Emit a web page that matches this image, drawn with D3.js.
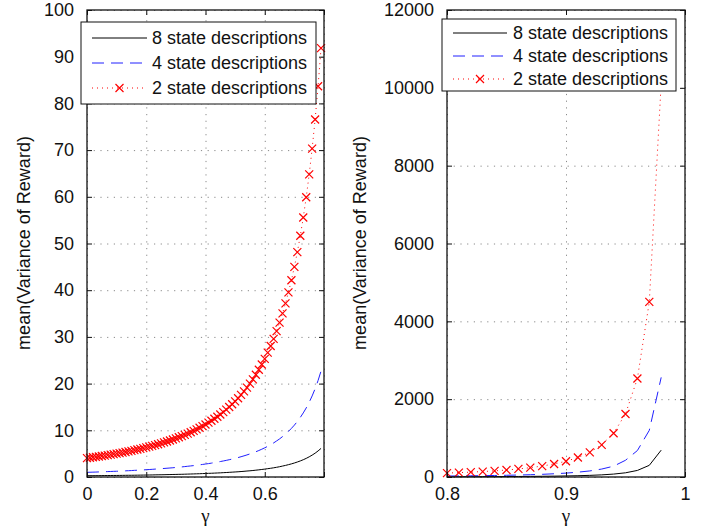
<!DOCTYPE html>
<html><head><meta charset="utf-8">
<script src="https://cdn.jsdelivr.net/npm/d3@7"></script>
<style>body{margin:0;background:#fff} svg{display:block} text{font-family:"Liberation Sans",Arial,Helvetica,sans-serif}</style>
</head><body><svg id="c" width="705" height="531"></svg>
<script>
// ---------- data ----------
const seriesNames = ["8 state descriptions", "4 state descriptions", "2 state descriptions"];

const gammaLeft = [0,0.01,0.02,0.03,0.04,0.05,0.06,0.07,0.08,0.09,
  0.10,0.11,0.12,0.13,0.14,0.15,0.16,0.17,0.18,0.19,
  0.20,0.21,0.22,0.23,0.24,0.25,0.26,0.27,0.28,0.29,
  0.30,0.31,0.32,0.33,0.34,0.35,0.36,0.37,0.38,0.39,
  0.40,0.41,0.42,0.43,0.44,0.45,0.46,0.47,0.48,0.49,
  0.50,0.51,0.52,0.53,0.54,0.55,0.56,0.57,0.58,0.59,
  0.60,0.61,0.62,0.63,0.64,0.65,0.66,0.67,0.68,0.69,
  0.70,0.71,0.72,0.73,0.74,0.75,0.76,0.77,0.78,0.79];
const var8Left = [0.27,0.28,0.28,0.29,0.29,0.30,0.31,0.31,0.32,0.33,
  0.33,0.34,0.35,0.36,0.37,0.37,0.38,0.39,0.40,0.41,
  0.42,0.43,0.44,0.46,0.47,0.48,0.49,0.51,0.52,0.54,
  0.55,0.57,0.58,0.60,0.62,0.64,0.66,0.68,0.70,0.73,
  0.75,0.78,0.80,0.83,0.86,0.89,0.93,0.96,1.00,1.04,
  1.08,1.12,1.17,1.22,1.28,1.33,1.39,1.46,1.53,1.61,
  1.69,1.78,1.87,1.97,2.08,2.20,2.34,2.48,2.64,2.81,
  3.00,3.21,3.44,3.70,3.99,4.32,4.69,5.10,5.58,6.12];
const var4Left = [1.00,1.02,1.04,1.06,1.09,1.11,1.13,1.16,1.18,1.21,
  1.23,1.26,1.29,1.32,1.35,1.38,1.42,1.45,1.49,1.52,
  1.56,1.60,1.64,1.69,1.73,1.78,1.83,1.88,1.93,1.98,
  2.04,2.10,2.16,2.23,2.30,2.37,2.44,2.52,2.60,2.69,
  2.78,2.87,2.97,3.08,3.19,3.31,3.43,3.56,3.70,3.84,
  4.00,4.16,4.34,4.53,4.73,4.94,5.17,5.41,5.67,5.95,
  6.25,6.57,6.93,7.30,7.72,8.16,8.65,9.18,9.77,10.41,
  11.11,11.89,12.76,13.72,14.79,16.00,17.36,18.90,20.66,22.68];
const var2Left = [4.05,4.13,4.22,4.30,4.39,4.49,4.58,4.68,4.78,4.89,
  5.00,5.11,5.23,5.35,5.48,5.61,5.74,5.88,6.02,6.17,
  6.33,6.49,6.66,6.83,7.01,7.20,7.40,7.60,7.81,8.03,
  8.27,8.51,8.76,9.02,9.30,9.59,9.89,10.20,10.54,10.88,
  11.25,11.63,12.04,12.47,12.91,13.39,13.89,14.42,14.98,15.57,
  16.20,16.87,17.58,18.33,19.14,20.00,20.92,21.90,22.96,24.09,
  25.31,26.63,28.05,29.58,31.25,33.06,35.03,37.19,39.55,42.14,
  45.00,48.16,51.66,55.56,59.91,64.80,70.31,76.56,83.68,91.84];

const gammaRight = [0.80,0.81,0.82,0.83,0.84,0.85,0.86,0.87,0.88,0.89,
  0.90,0.91,0.92,0.93,0.94,0.95,0.96,0.97,0.98];
const var8Right = [7,7.5,8.3,9.3,10.5,12,13.8,16,18.7,22.3,27,33,42,55,75,108,169,300,690];
const var4Right = [25,28,31,35,39,44,51,59,69,83,100,124,156,204,278,430,680,1200,2560];
const var2Right = [101,112,125,140,158,180,207,240,281,335,405,500,633,827,1125,1620,2531,4500,10125];

const xTicksLeft = [0,0.2,0.4,0.6,0.8];
const xTickLabelsLeft = ["0","0.2","0.4","0.6",""];
const yTicksLeft = [0,10,20,30,40,50,60,70,80,90,100];
const yTickLabelsLeft = ["0","10","20","30","40","50","60","70","80","90","100"];
const xTicksRight = [0.8,0.9,1.0];
const xTickLabelsRight = ["0.8","0.9","1"];
const yTicksRight = [0,2000,4000,6000,8000,10000,12000];
const yTickLabelsRight = ["0","2000","4000","6000","8000","10000","12000"];

const xLabel = "γ";
const yLabel = "mean(Variance of Reward)";

// ---------- drawing ----------
const svg = d3.select("#c");
const FONT = 18;

function panel(o) {
  const x = d3.scaleLinear().domain(o.xDomain).range(o.xRange);
  const y = d3.scaleLinear().domain(o.yDomain).range([477, 10]);
  const g = svg.append("g");
  const W = o.xRange[1] - o.xRange[0], H = 467;

  // grid
  const gx = g.append("g").attr("transform", `translate(0,477)`)
    .call(d3.axisBottom(x).tickValues(o.xTicks).tickSize(-H).tickFormat(""));
  const gy = g.append("g").attr("transform", `translate(${o.xRange[0]},0)`)
    .call(d3.axisLeft(y).tickValues(o.yTicks).tickSize(-W).tickFormat(""));
  [gx, gy].forEach(a => {
    a.select(".domain").remove();
    a.selectAll("line").attr("stroke", "#8a8a8a").attr("stroke-width", 1).attr("stroke-dasharray", "1.2,5.5");
  });

  // series
  const pts = (xs, ys) => xs.map((v, i) => [v, ys[i]]);
  const line = d3.line().x(d => x(d[0])).y(d => y(d[1]));
  g.append("path").datum(pts(o.gx, o.s8)).attr("d", line)
    .attr("fill", "none").attr("stroke", "#000").attr("stroke-width", 1);
  g.append("path").datum(pts(o.gx, o.s4)).attr("d", line)
    .attr("fill", "none").attr("stroke", "#2020ff").attr("stroke-width", 1).attr("stroke-dasharray", "12,7");
  g.append("path").datum(pts(o.gx, o.s2)).attr("d", line)
    .attr("fill", "none").attr("stroke", "#ff0000").attr("stroke-width", 1).attr("stroke-dasharray", "1,4");
  g.append("g").selectAll("path").data(pts(o.gx, o.s2)).join("path")
    .attr("transform", d => `translate(${x(d[0])},${y(d[1])})`)
    .attr("d", "M-4,-4L4,4M-4,4L4,-4")
    .attr("fill", "none").attr("stroke", "#ff0000").attr("stroke-width", 1.2);

  // axes with inward ticks
  const ab = g.append("g").attr("transform", "translate(0,477)")
    .call(d3.axisBottom(x).tickValues(o.xTicks).tickSize(-5).tickPadding(10).tickFormat((d, i) => o.xLabels[i]));
  const at = g.append("g").attr("transform", "translate(0,10)")
    .call(d3.axisTop(x).tickValues(o.xTicks).tickSize(-5).tickFormat(""));
  const al = g.append("g").attr("transform", `translate(${o.xRange[0]},0)`)
    .call(d3.axisLeft(y).tickValues(o.yTicks).tickSize(-5).tickPadding(13).tickFormat((d, i) => o.yLabels[i]));
  const ar = g.append("g").attr("transform", `translate(${o.xRange[1]},0)`)
    .call(d3.axisRight(y).tickValues(o.yTicks).tickSize(-5).tickFormat(""));
  [ab, at, al, ar].forEach(a => {
    a.select(".domain").remove();
    a.selectAll("line").attr("stroke", "#111").attr("stroke-width", 1);
    a.attr("font-size", FONT).attr("font-family", null);
    a.selectAll("text").attr("fill", "#111");
  });
  g.append("rect").attr("x", o.xRange[0]).attr("y", 10).attr("width", W).attr("height", H)
    .attr("fill", "none").attr("stroke", "#111").attr("stroke-width", 1.3);

  // labels
  g.append("text").attr("x", (o.xRange[0] + o.xRange[1]) / 2).attr("y", 522)
    .attr("text-anchor", "middle").attr("font-size", 19).attr("fill", "#111")
    .style("font-family", "'Liberation Serif','Times New Roman',serif").text(xLabel);
  g.append("text").attr("transform", `translate(${o.yLabelX},243) rotate(-90)`)
    .attr("text-anchor", "middle").attr("font-size", FONT).attr("fill", "#111").text(yLabel);

  // legend
  const L = o.legend;
  const lg = g.append("g");
  lg.append("rect").attr("x", L.x).attr("y", L.y).attr("width", L.w).attr("height", L.h)
    .attr("fill", "#fff").attr("stroke", "#111").attr("stroke-width", 1);
  const styles = [
    {stroke: "#000", dash: null},
    {stroke: "#2020ff", dash: "12,7"},
    {stroke: "#ff0000", dash: "1,4", marker: true}
  ];
  seriesNames.forEach((name, i) => {
    const cy = L.rows[i];
    const s = styles[i];
    lg.append("line").attr("x1", L.l1).attr("x2", L.l2).attr("y1", cy).attr("y2", cy)
      .attr("stroke", s.stroke).attr("stroke-width", 1).attr("stroke-dasharray", s.dash);
    if (s.marker) {
      lg.append("path").attr("transform", `translate(${(L.l1 + L.l2) / 2},${cy})`)
        .attr("d", "M-4,-4L4,4M-4,4L4,-4").attr("stroke", s.stroke).attr("stroke-width", 1.2).attr("fill", "none");
    }
    lg.append("text").attr("x", L.tx).attr("y", cy).attr("dy", "0.35em")
      .attr("font-size", FONT).attr("fill", "#111").text(name);
  });
}

panel({
  xDomain: [0, 0.8], xRange: [87, 324], yDomain: [0, 100],
  xTicks: xTicksLeft, xLabels: xTickLabelsLeft, yTicks: yTicksLeft, yLabels: yTickLabelsLeft,
  gx: gammaLeft, s8: var8Left, s4: var4Left, s2: var2Left,
  yLabelX: 30,
  legend: {x: 81, y: 22, w: 235, h: 82, l1: 92, l2: 147, tx: 152, rows: [38, 63, 88]}
});
panel({
  xDomain: [0.8, 1.0], xRange: [447, 685], yDomain: [0, 12000],
  xTicks: xTicksRight, xLabels: xTickLabelsRight, yTicks: yTicksRight, yLabels: yTickLabelsRight,
  gx: gammaRight, s8: var8Right, s4: var4Right, s2: var2Right,
  yLabelX: 366,
  legend: {x: 442, y: 19, w: 234, h: 72, l1: 453, l2: 507, tx: 513, rows: [33, 56, 79]}
});
</script>
</body></html>
